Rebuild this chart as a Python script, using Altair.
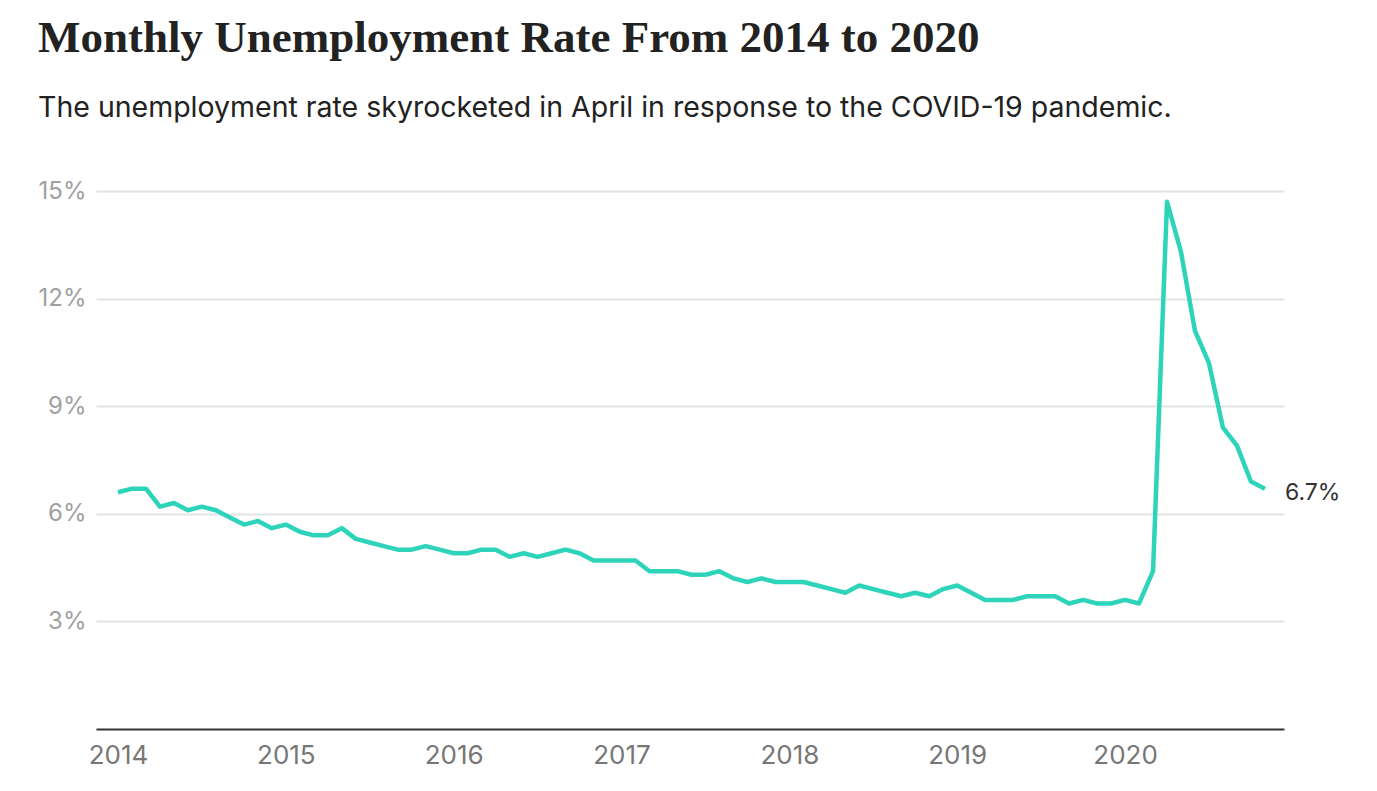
import altair as alt
import pandas as pd

years = [2014, 2015, 2016, 2017, 2018, 2019, 2020]
rates = {
    2014: [6.6, 6.7, 6.7, 6.2, 6.3, 6.1, 6.2, 6.1, 5.9, 5.7, 5.8, 5.6],
    2015: [5.7, 5.5, 5.4, 5.4, 5.6, 5.3, 5.2, 5.1, 5.0, 5.0, 5.1, 5.0],
    2016: [4.9, 4.9, 5.0, 5.0, 4.8, 4.9, 4.8, 4.9, 5.0, 4.9, 4.7, 4.7],
    2017: [4.7, 4.7, 4.4, 4.4, 4.4, 4.3, 4.3, 4.4, 4.2, 4.1, 4.2, 4.1],
    2018: [4.1, 4.1, 4.0, 3.9, 3.8, 4.0, 3.9, 3.8, 3.7, 3.8, 3.7, 3.9],
    2019: [4.0, 3.8, 3.6, 3.6, 3.6, 3.7, 3.7, 3.7, 3.5, 3.6, 3.5, 3.5],
    2020: [3.6, 3.5, 4.4, 14.7, 13.3, 11.1, 10.2, 8.4, 7.9, 6.9, 6.7],
}
y_ticks = [3, 6, 9, 12, 15]

rows = []
for y in years:
    for m, v in enumerate(rates[y]):
        rows.append({"t": y + m / 12.0, "rate": v})
df = pd.DataFrame(rows)
last = df.tail(1).copy()
last["label"] = last["rate"].map(lambda v: f"{v}%")

x_enc = alt.X(
    "t:Q",
    scale=alt.Scale(domain=[2013.869, 2020.947], nice=False, zero=False),
    axis=alt.Axis(
        values=years, format="d", title=None, grid=False, ticks=False,
        domainColor="#333333", domainWidth=2, labelColor="#777777",
        labelFont="Inter", labelFontSize=26, labelPadding=13,
    ),
)
y_enc = alt.Y(
    "rate:Q",
    scale=alt.Scale(domain=[0, 15], nice=False),
    axis=alt.Axis(
        values=y_ticks, labelExpr="datum.value + '%'", title=None,
        domain=False, ticks=False, grid=True, gridColor="#e3e3e3", gridWidth=2,
        labelColor="#a0a0a0", labelFont="Inter", labelFontSize=24, labelPadding=10,
    ),
)

line = alt.Chart(df).mark_line(color="#2dd4b9", strokeWidth=4.5, strokeJoin="round").encode(
    x=x_enc, y=y_enc
)
label = alt.Chart(last).mark_text(
    align="left", dx=20, dy=4, font="Inter", fontSize=23, color="#333333"
).encode(x="t:Q", y="rate:Q", text="label:N")

chart = (line + label).properties(
    width=1188,
    height=538,
    autosize=alt.AutoSizeParams(type="none"),
    padding={"left": 96, "top": 191, "right": 93, "bottom": 62},
    title=alt.TitleParams(
        text="Monthly Unemployment Rate From 2014 to 2020",
        subtitle="The unemployment rate skyrocketed in April in response to the COVID-19 pandemic.",
        anchor="start", frame="group", dx=-58, offset=57,
        font="Liberation Serif", fontSize=45, fontWeight="bold", color="#222222",
        subtitleFont="Inter", subtitleFontSize=28.5, subtitleColor="#222222",
        subtitlePadding=33,
    ),
).configure_view(stroke=None)

chart.save("out.html", embed_options={"renderer": "svg", "actions": False})
